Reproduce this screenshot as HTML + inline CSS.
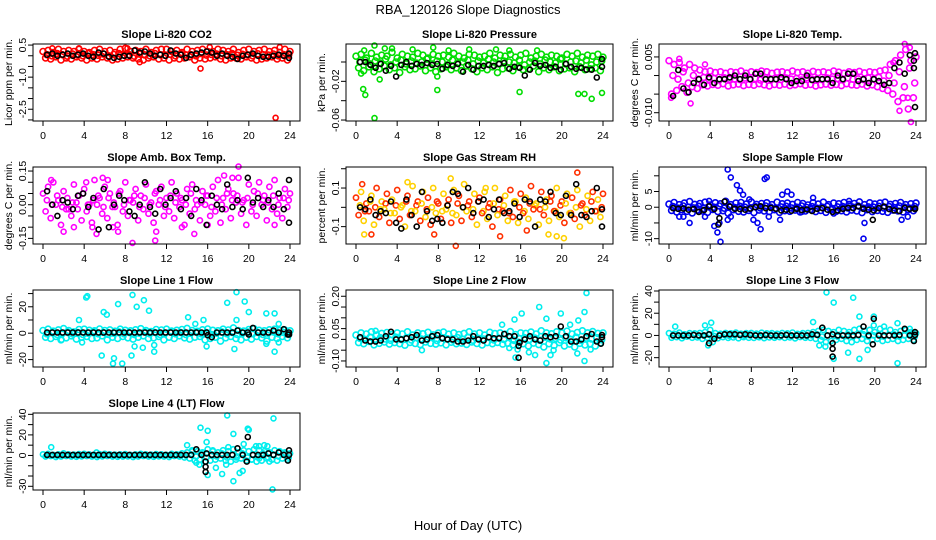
<!DOCTYPE html>
<html><head><meta charset="utf-8">
<style>
html,body{margin:0;padding:0;background:#fff;}
svg{display:block;font-family:"Liberation Sans",sans-serif;}
</style></head>
<body>
<svg id="chart" width="936" height="540" viewBox="0 0 936 540" xmlns="http://www.w3.org/2000/svg">
<text x="468" y="14" font-size="13" text-anchor="middle">RBA_120126  Slope Diagnostics</text>
<text x="468" y="530" font-size="13" text-anchor="middle">Hour of Day (UTC)</text>
<g id="panels"></g>
</svg>
<script>
const hours = Array.from({length:49},(_,i)=>i*0.5);
const xTicks = [0,4,8,12,16,20,24];

// Panel 1: CO2
const p1A=[0.2,0.25,0.15,0.3,0.2,0.25,0.2,0.3,0.2,0.15,0.25,0.3,0.2,0.25,0.15,0.3,0.35,0.2,0.25,0.2,0.3,0.15,0.25,0.3,0.3,0.2,0.25,0.15,0.3,0.2,0.25,0.3,0.2,0.2,0.3,0.25,0.2,0.3,0.15,0.25,0.3,0.2,0.25,0.3,0.2,0.25,0.15,0.3,0.2];
const p1B=[-0.1,-0.15,-0.05,-0.2,-0.1,-0.15,-0.05,-0.1,-0.2,-0.1,-0.15,-0.05,-0.1,-0.2,-0.15,-0.1,-0.05,-0.1,-0.15,-0.2,-0.1,-0.05,-0.15,-0.1,-0.2,-0.1,-0.15,-0.1,-0.05,-0.2,-0.1,-0.15,-0.1,-0.05,-0.15,-0.2,-0.1,-0.1,-0.15,-0.05,-0.1,-0.2,-0.15,-0.1,-0.05,-0.15,-0.1,-0.2,-0.1];
const p1M=[0.05,0.0,0.1,0.05,-0.02,0.08,0.03,0.0,0.1,0.05,0.02,0.08,0.0,0.06,0.1,0.03,0.05,-0.02,0.08,0.04,0.0,0.1,0.05,0.02,0.07,0.0,0.09,0.04,0.05,0.0,0.1,0.03,0.06,0.08,0.0,0.05,0.1,0.02,0.07,0.04,0.0,0.09,0.05,0.03,0.08,0.0,0.06,0.04,0.05];
const p1K=[0.05,0.1,0.0,0.05,0.1,0.0,0.05,0.1,0.0,-0.05,0.15,0.1,-0.05,-0.1,-0.05,0.0,0.0,0.25,0.15,0.2,0.1,0.0,0.05,0.0,0.25,0.1,0.05,-0.1,0.05,0.1,0.15,0.2,0.15,0.0,0.1,0.0,-0.05,-0.15,0.0,0.05,0.1,0.0,-0.05,-0.05,0.0,0.05,0.0,0.1,-0.1];
const p1O=[15.3,-0.6,16.2,0.4,22.6,-2.9,23,0.4,8.2,0.35,0.9,0.35,3.5,0.35,9.4,-0.3];
const p1KO=[];

// Panel 2: Pressure
const p2A=[0.006,0.008,0.004,0.009,0.005,0.007,0.006,0.01,0.004,0.008,0.006,0.005,0.009,0.007,0.004,0.008,0.006,0.007,0.005,0.009,0.006,0.004,0.008,0.007,0.005,0.006,0.009,0.004,0.007,0.006,0.008,0.005,0.007,0.009,0.004,0.006,0.008,0.005,0.007,0.006,0.004,0.008,0.006,0.009,0.005,0.007,0.006,0.008,0.005];
const p2B=[-0.006,-0.009,-0.005,-0.01,-0.007,-0.004,-0.008,-0.006,-0.011,-0.005,-0.008,-0.007,-0.004,-0.009,-0.006,-0.01,-0.007,-0.005,-0.008,-0.006,-0.009,-0.004,-0.007,-0.01,-0.006,-0.008,-0.005,-0.011,-0.007,-0.006,-0.009,-0.005,-0.008,-0.007,-0.004,-0.01,-0.006,-0.008,-0.005,-0.009,-0.007,-0.006,-0.01,-0.005,-0.008,-0.007,-0.006,-0.009,-0.005];
const p2M=[0.0,0.002,-0.002,0.001,-0.001,0.003,-0.003,0.0,0.002,-0.002,0.001,-0.001,0.0,0.003,-0.002,0.001,0.0,-0.003,0.002,-0.001,0.0,0.002,-0.002,0.001,-0.001,0.003,0.0,-0.002,0.001,0.0,-0.001,0.002,-0.003,0.0,0.001,-0.002,0.002,0.0,-0.001,0.003,-0.002,0.0,0.001,-0.001,0.002,-0.003,0.0,0.001,-0.001];
const p2K=[0,0,-0.003,-0.006,-0.002,-0.009,-0.004,-0.015,-0.003,0,-0.004,-0.002,-0.003,-0.001,-0.003,-0.002,-0.007,-0.003,-0.004,-0.002,-0.01,-0.003,-0.008,-0.004,-0.004,-0.003,-0.004,-0.002,-0.001,-0.007,-0.005,-0.006,-0.014,-0.008,-0.001,-0.004,-0.003,-0.006,-0.005,-0.008,-0.002,-0.005,-0.007,-0.006,-0.008,-0.008,-0.016,0.003,-0.005];
const p2O=[0.5,-0.012,0.7,-0.028,0.9,-0.034,1.8,-0.058,2.3,-0.018,7.9,-0.029,7.9,-0.015,15.9,-0.031,21.6,-0.033,22.2,-0.033,22.9,-0.038,23.9,-0.032,1.8,0.017,2.8,0.014,3.5,0.014,7.5,0.015,11,0.013,13.6,0.013,14.9,0.012,17.6,0.012,0.8,0.012,5.5,0.013,9.0,0.012];
const p2KO=[];

// Panel 3: Li-820 Temp
const p3A=[0.004,0.003,0.0035,0.002,0.003,0.002,0.0015,0.001,0.0012,0.0008,0.001,0.0006,0.001,0.0008,0.0012,0.0006,0.001,0.0008,0.0012,0.001,0.0006,0.0009,0.001,0.0007,0.0012,0.0008,0.001,0.0006,0.0011,0.0008,0.001,0.0007,0.0012,0.0009,0.0006,0.001,0.0008,0.0011,0.0007,0.001,0.0008,0.0012,0.0015,0.003,0.004,0.0055,0.007,0.004,0.005];
const p3B=[-0.005,-0.004,-0.003,-0.0045,-0.003,-0.0035,-0.0025,-0.0028,-0.0024,-0.0026,-0.0022,-0.0028,-0.0025,-0.0023,-0.0027,-0.0024,-0.0026,-0.0022,-0.0025,-0.0028,-0.0024,-0.0026,-0.0023,-0.0027,-0.0025,-0.0022,-0.0026,-0.0024,-0.0028,-0.0025,-0.0023,-0.0026,-0.0024,-0.0027,-0.0022,-0.0025,-0.0026,-0.0023,-0.0028,-0.0025,-0.003,-0.0035,-0.004,-0.005,-0.007,-0.006,-0.009,-0.006,-0.011];
const p3M=[0.0,-0.001,0.001,-0.002,0.0,-0.001,-0.0005,-0.001,-0.0008,-0.0012,-0.0006,-0.001,-0.0009,-0.0011,-0.0007,-0.001,-0.0008,-0.0012,-0.0006,-0.001,-0.0009,-0.0011,-0.0007,-0.001,-0.0008,-0.0012,-0.0006,-0.001,-0.0009,-0.0011,-0.0007,-0.001,-0.0008,-0.0012,-0.0006,-0.001,-0.0009,-0.0011,-0.0007,-0.001,-0.0005,-0.0015,0.0,-0.002,0.001,-0.003,0.002,-0.002,0.0];
const p3K=[-0.0055,0.0015,-0.0035,-0.0045,-0.002,-0.001,-0.0025,-0.0005,-0.002,-0.001,-0.001,-0.0005,0,-0.001,0,-0.001,0.0005,0.0005,-0.001,-0.001,-0.001,-0.0005,-0.001,-0.002,-0.0015,-0.0015,0,-0.0012,-0.001,-0.001,-0.001,-0.002,0,-0.001,0.0005,0.0005,-0.0015,-0.001,-0.002,-0.001,-0.0015,-0.0025,-0.002,0.002,0.0035,0.0005,0.0055,0.006,-0.0085];
const p3O=[22.9,0.0085,23.4,0.0075,23.5,-0.0125,22.4,-0.0095,1,0.0045,21.8,0.0035,0.2,-0.006,2.1,-0.0075,3.5,0.003,23.2,-0.006];
const p3KO=[23.8,0.004,23.8,0.002];

// Panel 4: Amb. Box Temp
const p4A=[0.05,0.08,0.1,0.02,0.06,-0.02,0.09,0.04,0.07,0.0,0.11,0.03,0.08,0.05,-0.01,0.06,0.1,0.02,0.07,0.04,0.09,0.01,0.06,0.08,0.03,0.1,0.05,0.02,0.07,0.09,0.0,0.06,0.04,0.08,0.11,0.03,0.07,0.05,0.12,0.02,0.09,0.06,0.1,0.04,0.08,0.11,0.03,0.07,0.05];
const p4B=[-0.03,-0.06,0.0,-0.09,-0.02,-0.05,0.01,-0.07,-0.03,-0.08,0.0,-0.04,-0.06,-0.01,-0.09,-0.03,-0.05,0.01,-0.07,-0.02,-0.04,-0.08,0.0,-0.05,-0.03,-0.06,-0.01,-0.09,-0.04,-0.02,-0.07,0.0,-0.05,-0.03,-0.08,-0.02,-0.06,0.01,-0.04,-0.09,-0.03,-0.05,0.0,-0.07,-0.02,-0.04,-0.06,-0.01,-0.05];
const p4M=[0.02,0.0,0.04,-0.01,0.03,0.01,-0.02,0.05,0.0,0.02,0.04,-0.01,0.03,0.01,0.05,0.0,0.02,0.04,-0.01,0.03,0.0,0.05,0.02,-0.01,0.04,0.01,0.03,0.0,0.05,0.02,0.01,0.04,-0.01,0.03,0.0,0.05,0.02,0.04,0.01,0.03,0.0,0.05,0.02,0.01,0.04,0.0,0.03,0.02,0.01];
const p4K=[0.06,0.0,-0.05,0.02,0.01,-0.02,0.04,0.05,-0.01,0.03,-0.11,0.07,-0.1,0.0,0.04,0.02,-0.03,-0.05,0.0,0.1,-0.01,-0.04,0.07,0.0,0.03,0.06,-0.02,0.03,-0.05,0.07,0.02,-0.09,0.04,0.0,-0.02,0.09,-0.01,0.02,-0.02,0.12,0.01,0.03,-0.01,0.02,-0.01,0.05,-0.02,0.11,-0.08];
const p4O=[0.8,0.11,2,-0.12,4.8,-0.1,5.2,-0.13,6.3,0.11,7.3,-0.12,8.7,-0.17,10.9,-0.16,13.5,-0.1,14.7,-0.13,19,0.17,17.6,0.13,16,-0.09,22.5,-0.09,3,-0.1,6.8,-0.1,11,-0.12,4.2,0.1,5.8,0.12,18.4,0.12];
const p4KO=[];

// Panel 5: Gas Stream RH
const p5A=[0.05,0.08,0.02,0.06,0.1,0.03,0.07,0.04,0.09,0.01,0.06,0.11,0.03,0.08,0.05,0.1,0.02,0.07,0.04,0.09,0.06,0.12,0.03,0.07,0.05,0.08,0.02,0.1,0.04,0.06,0.09,0.03,0.07,0.05,0.11,0.02,0.08,0.04,0.06,0.1,0.03,0.07,0.05,0.09,0.02,0.06,0.08,0.04,0.07];
const p5B=[-0.04,-0.07,-0.02,-0.09,-0.05,-0.01,-0.08,-0.03,-0.06,-0.1,-0.04,-0.02,-0.07,-0.05,-0.09,-0.03,-0.06,-0.01,-0.08,-0.04,-0.07,-0.02,-0.05,-0.09,-0.03,-0.06,-0.1,-0.04,-0.02,-0.07,-0.05,-0.08,-0.03,-0.06,-0.01,-0.09,-0.04,-0.07,-0.02,-0.05,-0.08,-0.03,-0.06,-0.1,-0.04,-0.07,-0.02,-0.05,-0.03];
const p5M=[0.01,-0.02,0.03,0.0,-0.01,0.02,-0.03,0.01,0.0,0.03,-0.02,0.01,0.02,-0.01,0.0,0.03,-0.02,0.01,-0.03,0.02,0.0,0.01,-0.01,0.03,-0.02,0.0,0.02,-0.01,0.01,-0.03,0.03,0.0,-0.02,0.02,0.01,-0.01,0.0,0.03,-0.02,0.01,0.02,-0.03,0.0,0.01,-0.01,0.03,-0.02,0.0,0.01];
const p5K=[0.0,-0.01,0.04,-0.04,-0.02,-0.03,0.03,-0.08,-0.11,0.04,-0.04,-0.1,0.08,-0.02,-0.07,-0.06,-0.08,0.01,0.08,0.07,0.0,0.1,-0.03,0.03,0.04,-0.05,-0.01,0.04,-0.03,-0.02,0.02,-0.05,0.04,0.03,-0.1,0.04,0.03,0.08,-0.03,-0.04,0.06,-0.04,0.12,-0.04,-0.05,-0.02,0.1,-0.01,-0.1];
const p5O=[0.6,0.12,0.8,-0.14,1.5,-0.14,5,0.13,7.6,-0.14,12.6,0.1,14,-0.15,18.7,-0.14,21.5,0.18,9.2,0.15,9.7,-0.2,20.2,-0.16,16.6,-0.12,19.5,-0.15];
const p5KO=[];

// Panel 6: Sample Flow
const p6A=[1,1.5,0.8,1.3,1.8,0.9,1.2,1.6,0.7,1.4,1.1,1.9,0.8,1.3,1.5,1,1.7,0.9,1.2,1.4,0.8,1.6,1.1,1.3,0.9,1.5,1.2,0.7,1.4,1,1.6,0.8,1.3,1.1,1.5,0.9,1.2,1.7,0.8,1.4,1,1.3,1.6,0.9,1.2,1.5,0.8,1.1,1.3];
const p6B=[-1,-1.5,-0.8,-1.3,-1.8,-0.9,-1.2,-1.6,-0.7,-1.4,-1.1,-1.9,-0.8,-1.3,-1.5,-1,-1.7,-0.9,-1.2,-1.4,-0.8,-1.6,-1.1,-1.3,-0.9,-1.5,-1.2,-0.7,-1.4,-1,-1.6,-0.8,-1.3,-1.1,-1.5,-0.9,-1.2,-1.7,-0.8,-1.4,-1,-1.3,-1.6,-0.9,-1.2,-1.5,-0.8,-1.1,-1.3];
const p6M=[0.2,-0.3,0.4,0.0,-0.2,0.3,-0.4,0.1,0.0,0.4,-0.3,0.2,-0.1,0.3,0.0,-0.4,0.2,-0.2,0.4,0.0,-0.3,0.1,0.3,-0.2,0.0,0.4,-0.1,0.2,-0.3,0.0,0.3,-0.4,0.1,0.2,-0.2,0.0,0.4,-0.3,0.1,0.0,0.3,-0.2,0.2,-0.1,0.4,0.0,-0.3,0.2,0.0];
const p6K=[-0.3,-0.5,-0.4,-0.8,-0.6,-1.5,-0.9,0.3,-0.6,-3.5,1.8,0.2,-0.5,-0.6,-0.8,-0.4,0.0,0.3,-0.3,-0.2,-0.5,-1,-0.8,-1.1,-0.5,-0.9,-0.7,-1.2,-0.5,-0.3,-0.8,-1.5,-1.0,-0.5,-0.2,-0.3,0.3,-0.5,-0.8,-1.0,-0.3,0.2,-0.6,-1.0,-1.2,-0.2,-0.5,-0.4,-0.6];
const p6O=[3.5,-3,4.4,-6,4.7,-8,5,-11,4.9,-5,6,9.5,6.6,7,5.7,12,6.9,5.3,7.2,4,9.3,9,9.5,9.5,8.2,-4,8.6,-5,8.9,-7,9.7,-3,11.5,5,11,4,11.9,4,10.8,-4,2,-5,1,-3,16,-2,19,-5,18.9,-10,22.6,-4,23.2,-3,5.7,-4,6,-3,14,3,17.5,2,1.4,-3,3.9,2,7.8,2.5,12.9,-1.5];
const p6KO=[4.8,-5.5,19.8,-4];

// Panel 7: Line 1 Flow
const p7A=[2,3,1.5,2.5,3.5,2,1,2.8,3,2.2,1.8,3.2,2,2.5,1.5,3,2.2,1.8,2.6,3.4,2,1.2,2.8,2.4,3,1.6,2.2,2.8,3.6,2,1.4,2.6,3.2,2.2,1.8,3,2.4,4,2,1.6,2.8,3.4,2.2,1.8,2.6,3,2,2.4,1.8];
const p7B=[-3,-4,-2.5,-5,-3.5,-2,-4.5,-3,-2.5,-4,-3.5,-2,-5,-3,-4,-2.5,-3.5,-4.5,-3,-2,-4,-3.5,-2.5,-5,-3,-4,-2,-3.5,-4.5,-3,-2.5,-5,-4,-3,-6,-3.5,-2.5,-4,-5,-3,-4.5,-2.5,-3.5,-6,-3,-4,-2.5,-3.5,-3];
const p7M=[-0.5,0.5,-1,0,1,-0.5,0.5,-1,0,1,-0.5,0.5,-1,0,1,-0.5,0.5,-1,0,1,-0.5,0.5,-1,0,1,-0.5,0.5,-1,0,1,-0.5,0.5,-1,0,1,-0.5,0.5,-1,0,1,-0.5,0.5,-1,0,1,-0.5,0.5,-1,0];
const p7K=[0.5,0.5,0.5,0.5,0.5,0.5,0.5,0.5,0.5,0.5,0.5,0.5,0.5,0.5,0.5,0.5,0.5,0.5,0.5,0.5,0.5,0.5,0.5,0.5,0.5,0.5,0.5,0.5,0.5,0.5,0.5,0.5,-3,0.5,0.5,0.5,0.5,2,0.5,0.5,4,0.5,0.5,0.5,2,0.5,3,0.5,-1];
const p7O=[4.2,27,4.3,28,3.5,10,7.3,22,8.7,29,9.1,20,9.8,25,5.7,-17,6.8,-23,6.9,-19,7.7,-23,8.6,-17,8.9,-10,9.7,-11,10.8,-9,10.8,-14,10.3,17,14.1,12,17.9,23,18.8,31,19.6,24,20,16,21.7,15,22.5,15,22.5,-14,21.7,-8,15.9,-10,18.6,-12,3.8,-7,1.8,-5,5.9,16,6.2,14,14.8,7,15.6,10,18.8,10,22.9,7,22.9,-7];
const p7KO=[16,-1.5,20,-1,23.8,-1];

// Panel 8: Line 2 Flow
const p8A=[0.02,0.03,0.025,0.035,0.02,0.028,0.032,0.022,0.03,0.025,0.035,0.02,0.03,0.026,0.033,0.021,0.029,0.034,0.024,0.03,0.022,0.028,0.035,0.025,0.03,0.02,0.033,0.027,0.03,0.024,0.036,0.022,0.03,0.028,0.034,0.025,0.04,0.03,0.026,0.035,0.03,0.038,0.025,0.032,0.04,0.03,0.036,0.028,0.03];
const p8B=[-0.015,-0.02,-0.01,-0.025,-0.018,-0.012,-0.022,-0.015,-0.02,-0.027,-0.014,-0.019,-0.024,-0.012,-0.018,-0.022,-0.016,-0.025,-0.013,-0.02,-0.017,-0.023,-0.012,-0.019,-0.026,-0.015,-0.02,-0.014,-0.022,-0.018,-0.025,-0.013,-0.02,-0.03,-0.017,-0.024,-0.035,-0.02,-0.028,-0.015,-0.03,-0.022,-0.035,-0.018,-0.026,-0.02,-0.03,-0.016,-0.022];
const p8M=[0.005,0.0,0.01,-0.005,0.008,0.002,-0.004,0.01,0.0,0.006,-0.003,0.009,0.002,0.0,0.01,-0.005,0.006,0.003,-0.002,0.008,0.0,0.01,-0.004,0.005,0.002,0.009,-0.003,0.006,0.0,0.01,-0.005,0.004,0.008,0.0,0.006,-0.004,0.01,0.002,0.005,-0.003,0.008,0.0,0.01,-0.005,0.006,0.002,0.009,-0.002,0.005];
const p8K=[0.01,-0.005,-0.01,-0.01,-0.005,0.015,0.035,0.0,0.0,0.005,0.01,0.02,-0.005,0.0,0.015,0.02,0.005,0.0,0.0,-0.01,-0.01,-0.005,0.015,0.0,-0.005,0.01,0.005,0.005,0.025,0.015,0.015,-0.015,0.0,0.015,0.0,-0.005,0.015,0.01,0.015,0.06,0.015,-0.01,-0.01,0.0,0.015,0.025,-0.01,0.01,0.02];
const p8O=[15.4,0.092,17.8,0.15,16.1,0.12,18.5,0.096,19.9,0.12,22.4,0.215,22.2,0.127,21.6,0.088,14.2,0.068,20.8,0.068,6.4,-0.05,15.5,-0.084,18.5,-0.11,22.2,-0.1,18.9,-0.073,17.4,-0.073,15.7,-0.047,22.8,-0.047,21.5,-0.065,1.9,0.04,16.8,-0.06,19.2,-0.05,14.9,-0.04];
const p8KO=[15.8,-0.085,15.8,-0.03,23.8,-0.02];

// Panel 9: Line 3 Flow
const p9A=[2,1.5,2.5,1,2,1.8,2.2,3,5,2,1.5,2.2,1.8,2.5,1.5,2,2.2,1.6,2.4,1.8,2,1.5,2.2,1.8,2.6,1.4,2,2.2,3,4,5,4,3,5,4,3,5,6,4,5,3,6,4,5,3,4,5,3,2];
const p9B=[-2,-1.5,-2.5,-1,-2,-1.8,-3,-2,-6,-2.5,-1.5,-2.2,-1.8,-2.5,-1.5,-2,-2.2,-1.6,-2.4,-1.8,-2,-1.5,-2.2,-1.8,-2.6,-1.4,-2,-2.2,-3,-4,-6,-5,-4,-3,-5,-6,-4,-3,-5,-4,-3,-5,-4,-3,-5,-4,-3,-4,-2];
const p9M=[0,0.5,-0.5,0,0.5,-0.5,0,0.5,-0.5,0,0.5,-0.5,0,0.5,-0.5,0,0.5,-0.5,0,0.5,-0.5,0,0.5,-0.5,0,0.5,-0.5,0,1,-1,0,1,-1,0,1,-1,0,1,-1,0,1,-1,0,1,-1,0,1,-1,0];
const p9K=[0,0,0,0,0.5,0,0,1,-3,0,1,1,1,0.5,1,0.5,0,0,0.5,0,0,0,0.5,0,0,0,0,1,0.5,7,0,1,0,0,0,0,0.5,8,0,15,0,0,0,0,0.5,6,0,0.5,3];
const p9O=[0.6,8,4.1,11.5,3.8,-9,14,12,15.3,38.7,16,29.6,17.9,34,18.5,17,18.5,-21,17.4,-15.5,16,-21,19.3,-13,22.2,-25,22.2,11,14.6,-9,19.9,17,19.9,9,20.9,8,15.2,-10,23.4,6,3.5,9];
const p9KO=[3.9,-7,15.9,-12,15.9,-19,15.9,-7,19.8,-8,23.8,-5];

// Panel 10: Line 4 (LT) Flow
const p10A=[1,1.5,0.5,1,2,1,0.8,1.2,1.5,1,0.5,1.2,1.5,1,0.8,1,1.2,0.5,1,1.5,1,0.8,1.2,1,0.5,1.5,1,2,3,5,4,3,6,4,3,5,4,6,3,5,4,6,5,4,3,5,4,3,2];
const p10B=[-1,-0.5,-1.5,-1,-0.5,-1,-1.2,-0.8,-0.5,-1,-1.5,-0.8,-0.5,-1,-1.2,-1,-0.8,-1.5,-1,-0.5,-1,-1.2,-0.8,-1,-1.5,-0.5,-1,-2,-3,-5,-4,-6,-5,-4,-3,-5,-6,-4,-3,-5,-4,-6,-5,-3,-4,-5,-3,-4,-2];
const p10M=[0,0,0,0,0,0,0,0,0,0,0,0,0,0,0,0,0,0,0,0,0,0,0,0,0,0,0,0,1,-1,2,-2,1,-1,2,-2,1,-1,2,-2,1,-1,2,-2,1,-1,2,-2,0];
const p10K=[0.5,0.5,0.5,0.5,0.5,0.5,0.5,0.5,0.5,0.5,0.5,0.5,0.5,0.5,0.5,0.5,0.5,0.5,0.5,0.5,0.5,0.5,0.5,0.5,0.5,0.5,0.5,0.5,0.5,6,0.5,2,0.5,0.5,0.5,0.5,0.5,7,0.5,18,0.5,0.5,0.5,2,0.5,3,0.5,0.5,5];
const p10O=[0.8,8,5.2,3,15.3,27,14,10,16,24,15.9,13,17.9,39,18.5,21,19.9,26,20,25,22.4,36,22.3,-33,18.5,-25,17.4,-18,19.1,-17,19.4,-15,16,-19,16.8,-12,14.9,-7,15.2,-9,17.8,-9,21,9,21.5,10,21.8,9,20.7,9,19.5,11,22,-6,20.3,-4,16.5,5,14.5,4,18,8,18.8,-2,21,-3,23,3];
const p10KO=[15.8,-16,15.8,-11,15.8,-6,19.8,-6,23.8,-5];

const NS="http://www.w3.org/2000/svg";
const colX=[33,346,659], rowY=[44,167,290,413], PW=267, PH=77;
const panels=[
 {name:"co2",title:"Slope Li-820 CO2",ylab:"Licor ppm per min.",col:0,row:0,ymin:-3.05,ymax:0.55,ticks:[0.5,0,-0.5,-1,-1.5,-2,-2.5,-3],labels:[0.5,-1.0,-2.5],lfmt:1,A:p1A,B:p1B,M:p1M,K:p1K,O:p1O,KO:p1KO,ca:"#ff0000",cb:"#ff0000",r:3},
 {name:"pressure",title:"Slope Li-820 Pressure",ylab:"kPa per min.",col:1,row:0,ymin:-0.061,ymax:0.0186,ticks:[0,-0.02,-0.04,-0.06],labels:[-0.02,-0.06],lfmt:2,A:p2A,B:p2B,M:p2M,K:p2K,O:p2O,KO:p2KO,ca:"#00dd00",cb:"#00dd00",r:3},
 {name:"li820-temp",title:"Slope Li-820 Temp.",ylab:"degrees C per min.",col:2,row:0,ymin:-0.01223,ymax:0.00848,ticks:[0.005,0,-0.005,-0.01],labels:[0.005,-0.010],lfmt:3,A:p3A,B:p3B,M:p3M,K:p3K,O:p3O,KO:p3KO,ca:"#ff00ff",cb:"#ff00ff",r:3},
 {name:"amb-box-temp",title:"Slope Amb. Box Temp.",ylab:"degrees C per min.",col:0,row:1,ymin:-0.175,ymax:0.168,ticks:[0.15,0.1,0.05,0,-0.05,-0.1,-0.15],labels:[0.15,0.00,-0.15],lfmt:2,A:p4A,B:p4B,M:p4M,K:p4K,O:p4O,KO:p4KO,ca:"#ff00ff",cb:"#ff00ff",r:2.6},
 {name:"gas-stream-rh",title:"Slope Gas Stream RH",ylab:"percent per min.",col:1,row:1,ymin:-0.19,ymax:0.209,ticks:[0.2,0.1,0,-0.1],labels:[0.1,-0.1],lfmt:1,A:p5A,B:p5B,M:p5M,K:p5K,O:p5O,KO:p5KO,ca:"#ffd000",cb:"#ff3000",mix:true,r:2.6},
 {name:"sample-flow",title:"Slope Sample Flow",ylab:"ml/min per min.",col:2,row:1,ymin:-11.7,ymax:12.8,ticks:[10,5,0,-5,-10],labels:[5,0,-10],lfmt:0,A:p6A,B:p6B,M:p6M,K:p6K,O:p6O,KO:p6KO,ca:"#0000ee",cb:"#0000ee",r:3},
 {name:"line1-flow",title:"Slope Line 1 Flow",ylab:"ml/min per min.",col:0,row:2,ymin:-25.6,ymax:32.7,ticks:[30,20,10,0,-10,-20],labels:[20,0,-20],lfmt:0,A:p7A,B:p7B,M:p7M,K:p7K,O:p7O,KO:p7KO,ca:"#00eeee",cb:"#00eeee",r:3},
 {name:"line2-flow",title:"Slope Line 2 Flow",ylab:"ml/min per min.",col:1,row:2,ymin:-0.128,ymax:0.229,ticks:[0.2,0.15,0.1,0.05,0,-0.05,-0.1],labels:[0.20,0.05,-0.10],lfmt:2,A:p8A,B:p8B,M:p8M,K:p8K,O:p8O,KO:p8KO,ca:"#00eeee",cb:"#00eeee",r:3},
 {name:"line3-flow",title:"Slope Line 3 Flow",ylab:"ml/min per min.",col:2,row:2,ymin:-28.4,ymax:40.9,ticks:[40,30,20,10,0,-10,-20],labels:[40,20,0,-20],lfmt:0,A:p9A,B:p9B,M:p9M,K:p9K,O:p9O,KO:p9KO,ca:"#00eeee",cb:"#00eeee",r:2.6},
 {name:"line4-flow",title:"Slope Line 4 (LT) Flow",ylab:"ml/min per min.",col:0,row:3,ymin:-33.6,ymax:41.3,ticks:[40,30,20,10,0,-10,-20,-30],labels:[40,20,0,-30],lfmt:0,A:p10A,B:p10B,M:p10M,K:p10K,O:p10O,KO:p10KO,ca:"#00eeee",cb:"#00eeee",r:2.6}
];
const root=document.getElementById('panels');
function mk(tag,attrs,parent){const e=document.createElementNS(NS,tag);for(const k in attrs)e.setAttribute(k,attrs[k]);parent.appendChild(e);return e;}
function dot(g,x,y,c,r){
  return mk('circle',{cx:x.toFixed(1),cy:y.toFixed(1),r:r,fill:'none',stroke:c,'stroke-width':1.6},g);
}
panels.forEach(p=>{
  const x0=colX[p.col], y0=rowY[p.row];
  const sx=h=>x0+10+h*(PW-20)/24;
  const sy=v=>y0+PH*(p.ymax-v)/(p.ymax-p.ymin);
  const colorFor=(base,i)=>p.mix?(i%2?p.ca:p.cb):base;
  const g=mk('g',{},g0=root);
  
  
  const t=mk('text',{x:x0+PW/2,y:y0-6,'font-size':11,'font-weight':'bold','text-anchor':'middle'},g);
  t.textContent=p.title;
  
  
  const yl=mk('text',{transform:`translate(12,${y0+PH/2}) rotate(-90)`,'font-size':10.5,'text-anchor':'middle'},g);
  yl.textContent=p.ylab;
  if(p.col>0) yl.setAttribute('transform',`translate(${x0-21},${y0+PH/2}) rotate(-90)`);
  
  
  const xa=mk('g',{},g);
  
  
  xTicks.forEach(h=>{
    mk('line',{x1:sx(h),x2:sx(h),y1:y0+PH,y2:y0+PH+5,stroke:'#000'},xa);
    const tl=mk('text',{x:sx(h),y:y0+PH+18,'font-size':10.5,'text-anchor':'middle'},xa);
    tl.textContent=h;
    
    
  });
  mk('line',{x1:sx(0),x2:sx(24),y1:y0+PH,y2:y0+PH,stroke:'#000'},xa);
  const ya=mk('g',{},g);
  
  
  p.ticks.forEach(v=>mk('line',{x1:x0-5,x2:x0,y1:sy(v),y2:sy(v),stroke:'#000'},ya));
  p.labels.forEach(v=>{
    const tl=mk('text',{transform:`translate(${x0-7},${sy(v)}) rotate(-90)`,'font-size':10.5,'text-anchor':'middle'},ya);
    tl.textContent=v.toFixed(p.lfmt);
    
    
  });
  const pts=mk('g',{},g);
  
  
  p.A.forEach((v,i)=>{const c=dot(pts,sx(hours[i]),sy(v),colorFor(p.ca,i),p.r);});
  p.M.forEach((v,i)=>{const h=hours[i]+0.375;if(h>24)return;const c=dot(pts,sx(h),sy(v),colorFor(p.ca,i+1),p.r);});
  p.B.forEach((v,i)=>{const h=hours[i]+0.25;if(h>24)return;const c=dot(pts,sx(h),sy(v),colorFor(p.cb,i),p.r);});
  for(let i=0;i<p.O.length;i+=2){const c=dot(pts,sx(p.O[i]),sy(p.O[i+1]),colorFor(p.ca,i/2),2.5);}
  const kg=mk('g',{},g);
  
  
  p.K.forEach((v,i)=>{const h=Math.min(23.9,hours[i]+0.4);const c=dot(kg,sx(h),sy(v),'#000',2.5);});
  for(let i=0;i<p.KO.length;i+=2){const c=dot(kg,sx(p.KO[i]),sy(p.KO[i+1]),'#000',2.5);}
  const box=mk('rect',{x:x0,y:y0,width:PW,height:PH,fill:'none',stroke:'#000','stroke-width':1},g);
  
  
});
</script>
</body></html>
